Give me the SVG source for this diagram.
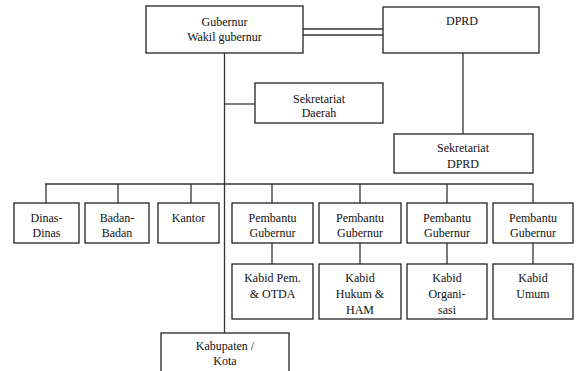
<svg xmlns="http://www.w3.org/2000/svg" width="576" height="371" viewBox="0 0 576 371">
<style>
rect{fill:#fff;stroke:#222;stroke-width:1.3}
.c line{stroke:#333;stroke-width:1.3}
text{font-family:"Liberation Serif","Times New Roman",serif;font-size:12px;fill:#111;text-anchor:middle}
</style>
<rect x="0" y="0" width="576" height="371" style="stroke:none"/>
<g class="c" id="connectors">
<line x1="303" y1="29" x2="383" y2="29"/>
<line x1="303" y1="35" x2="383" y2="35"/>
<line x1="224.5" y1="53" x2="224.5" y2="333"/>
<line x1="224.5" y1="104" x2="255" y2="104"/>
<line x1="463" y1="53" x2="463" y2="134"/>
<line x1="45" y1="184" x2="533.5" y2="184"/>
<line x1="46" y1="184" x2="46" y2="203"/>
<line x1="118" y1="184" x2="118" y2="203"/>
<line x1="191" y1="184" x2="191" y2="203"/>
<line x1="272" y1="184" x2="272" y2="203"/>
<line x1="360" y1="184" x2="360" y2="203"/>
<line x1="447" y1="184" x2="447" y2="203"/>
<line x1="533" y1="184" x2="533" y2="203"/>
<line x1="272" y1="243" x2="272" y2="264"/>
<line x1="360" y1="243" x2="360" y2="264"/>
<line x1="447" y1="243" x2="447" y2="264"/>
<line x1="533" y1="243" x2="533" y2="264"/>
</g>
<g id="gubernur"><rect x="146" y="6" width="157" height="47"/><text x="224.5" y="26">Gubernur</text><text x="224.5" y="41">Wakil gubernur</text></g>
<g id="dprd"><rect x="383" y="7" width="156" height="46"/><text x="462" y="25">DPRD</text></g>
<g id="sekda"><rect x="255" y="83" width="128" height="40"/><text x="319" y="103">Sekretariat</text><text x="319" y="117">Daerah</text></g>
<g id="sekdprd"><rect x="394" y="134" width="139" height="39"/><text x="463" y="152">Sekretariat</text><text x="463" y="168">DPRD</text></g>
<g id="dinas"><rect x="14" y="203" width="65" height="40"/><text x="46.5" y="222">Dinas-</text><text x="46.5" y="237">Dinas</text></g>
<g id="badan"><rect x="85" y="203" width="64" height="40"/><text x="117" y="222">Badan-</text><text x="117" y="237">Badan</text></g>
<g id="kantor"><rect x="158" y="203" width="61" height="40"/><text x="188.5" y="222">Kantor</text></g>
<g id="pg1"><rect x="232" y="203" width="81" height="40"/><text x="272.5" y="222">Pembantu</text><text x="272.5" y="237">Gubernur</text></g>
<g id="pg2"><rect x="319" y="203" width="82" height="40"/><text x="360" y="222">Pembantu</text><text x="360" y="237">Gubernur</text></g>
<g id="pg3"><rect x="407" y="203" width="80" height="40"/><text x="447" y="222">Pembantu</text><text x="447" y="237">Gubernur</text></g>
<g id="pg4"><rect x="493" y="203" width="80" height="40"/><text x="533" y="222">Pembantu</text><text x="533" y="237">Gubernur</text></g>
<g id="kabid1"><rect x="232" y="264" width="81" height="55"/><text x="272.5" y="282">Kabid Pem.</text><text x="272.5" y="298">&amp; OTDA</text></g>
<g id="kabid2"><rect x="319" y="264" width="82" height="55"/><text x="360" y="282">Kabid</text><text x="360" y="298">Hukum &amp;</text><text x="360" y="314">HAM</text></g>
<g id="kabid3"><rect x="407" y="264" width="80" height="55"/><text x="447" y="282">Kabid</text><text x="447" y="298">Organi-</text><text x="447" y="314">sasi</text></g>
<g id="kabid4"><rect x="493" y="264" width="80" height="55"/><text x="533" y="282">Kabid</text><text x="533" y="298">Umum</text></g>
<g id="kabupaten"><rect x="161" y="333" width="128" height="50"/><text x="225" y="350">Kabupaten /</text><text x="225" y="365">Kota</text></g>
</svg>
